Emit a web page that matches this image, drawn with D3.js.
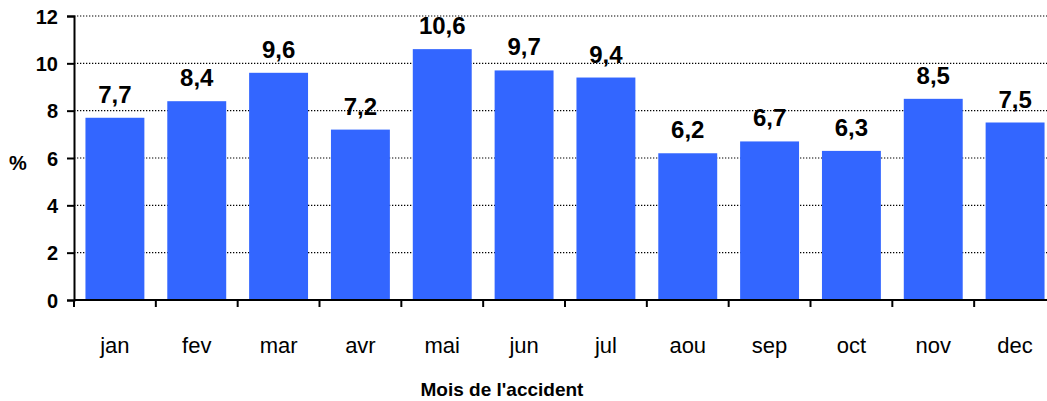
<!DOCTYPE html>
<html>
<head>
    <meta charset="utf-8">
    <title>mois de l'accident</title>
    <script type="text/javascript" src="https://cdn.jsdelivr.net/npm/d3@7/dist/d3.min.js"></script>
    <style type="text/css">
        body { margin: 0; background: #fff; }
        svg text { font-family: "Liberation Sans", Arial, sans-serif; fill: #000; }
    </style>
</head>
<body>
<div id="app"></div>

<script type="text/javascript">
    // données
    var months = ['jan', 'fev', 'mar', 'avr', 'mai', 'jun', 'jul', 'aou', 'sep', 'oct', 'nov', 'dec'];
    var values = [7.7, 8.4, 9.6, 7.2, 10.6, 9.7, 9.4, 6.2, 6.7, 6.3, 8.5, 7.5];
    var yTicks = [0, 2, 4, 6, 8, 10, 12];

    !function () {
        const w = 1047, h = 401;
        const svg = d3.select('#app').append('svg').attr('width', w).attr('height', h);

        const x = d3.scaleBand().domain(months).range([74, 1056]).paddingInner(0.28).paddingOuter(0.14);
        const y = d3.scaleLinear().domain([0, 12]).range([300, 16]);

        // grille pointillée
        svg.append('g').selectAll('line')
            .data(yTicks.slice(1))
            .enter().append('line')
            .attr('x1', 74).attr('x2', w)
            .attr('y1', d => y(d)).attr('y2', d => y(d))
            .attr('stroke', '#000').attr('stroke-width', 1.2)
            .attr('stroke-dasharray', '1.3,1.7');

        // barres
        svg.append('g').selectAll('rect')
            .data(values)
            .enter().append('rect')
            .attr('x', (d, i) => x(months[i]))
            .attr('y', d => y(d))
            .attr('width', x.bandwidth())
            .attr('height', d => y(0) - y(d))
            .attr('fill', '#3366FF');

        // valeurs au-dessus des barres
        svg.append('g').selectAll('text')
            .data(values)
            .enter().append('text')
            .attr('x', (d, i) => x(months[i]) + x.bandwidth() / 2)
            .attr('y', d => y(d) - 15)
            .attr('text-anchor', 'middle')
            .style('font-size', '24px').style('font-weight', 'bold')
            .text(d => String(d).replace('.', ','));

        // axe y
        const yAxis = svg.append('g').attr('transform', 'translate(74,0)')
            .call(d3.axisLeft(y).tickValues(yTicks).tickSize(7).tickPadding(9));
        yAxis.select('.domain').attr('stroke-width', 2);
        yAxis.selectAll('.tick line').attr('stroke-width', 2);
        yAxis.selectAll('.tick text')
            .style('font-size', '20px').style('font-weight', 'bold')
            .attr('dy', '0.36em');

        // axe x : graduations entre les catégories
        const xAxis = svg.append('g').attr('transform', 'translate(0,300)');
        xAxis.append('line')
            .attr('x1', 74).attr('x2', w)
            .attr('stroke', '#000').attr('stroke-width', 2);
        xAxis.selectAll('line.tk')
            .data(months)
            .enter().append('line')
            .attr('class', 'tk')
            .attr('x1', d => x(d) - x.step() * x.paddingOuter())
            .attr('x2', d => x(d) - x.step() * x.paddingOuter())
            .attr('y1', 0).attr('y2', 7)
            .attr('stroke', '#000').attr('stroke-width', 2);
        xAxis.selectAll('text')
            .data(months)
            .enter().append('text')
            .attr('x', d => x(d) + x.bandwidth() / 2)
            .attr('y', 53)
            .attr('text-anchor', 'middle')
            .style('font-size', '22px')
            .text(d => d);

        // titres des axes
        svg.append('text')
            .attr('x', 18).attr('y', 170)
            .attr('text-anchor', 'middle')
            .style('font-size', '20px').style('font-weight', 'bold')
            .text('%');

        svg.append('text')
            .attr('x', 502).attr('y', 396)
            .attr('text-anchor', 'middle')
            .style('font-size', '19px').style('font-weight', 'bold')
            .text("Mois de l'accident");
    }();
</script>
</body>
</html>
